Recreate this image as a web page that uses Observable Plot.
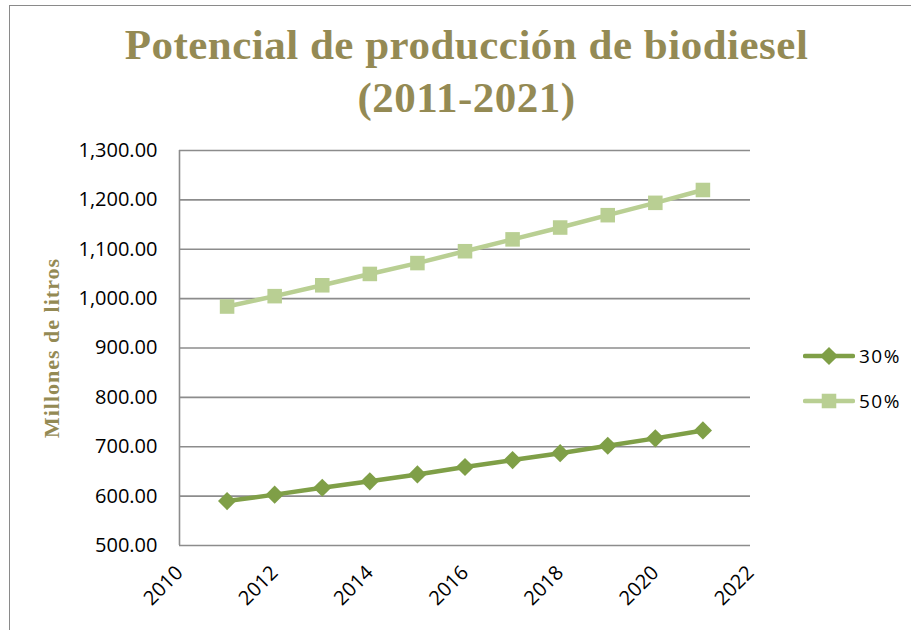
<!DOCTYPE html>
<html>
<head>
<meta charset="utf-8">
<script src="https://cdn.jsdelivr.net/npm/d3@7"></script>
<script src="https://cdn.jsdelivr.net/npm/@observablehq/plot@0.6"></script>
<style>
  html, body { margin: 0; padding: 0; background: #fff; }
  #wrap { position: relative; width: 911px; height: 630px; overflow: hidden; background: #fff; }
  #frame { position: absolute; left: 9px; top: 5px; width: 960px; height: 700px; border: 1.5px solid #8a8a8a; pointer-events: none; }
  #title { height: 135px; box-sizing: border-box; padding-top: 18px; padding-left: 22px; text-align: center;
           font-family: "Liberation Serif", "DejaVu Serif", serif; font-weight: bold; font-size: 43px;
           line-height: 53px; color: #948A54; letter-spacing: 0.5px; }
  #ylabel { position: absolute; left: 52px; top: 348px; transform: translate(-50%, -50%) rotate(-90deg);
            font-family: "Liberation Serif", serif; font-weight: bold; font-size: 22px; color: #948A54; white-space: nowrap; letter-spacing: 1px; }
  #legend { position: absolute; left: 803px; top: 333px; font-family: "Open Sans", sans-serif; font-size: 19px; color: #000; }
  .item { display: flex; align-items: center; height: 45px; }
  .item span { margin-left: 4px; letter-spacing: 1.5px; }
  #chart svg { display: block; }
</style>
</head>
<body>
<div id="wrap">
  <div id="title">Potencial de producción de biodiesel<br>(2011-2021)</div>
  <div id="chart"></div>
  <div id="ylabel">Millones de litros</div>
  <div id="legend"></div>
  <div id="frame"></div>
</div>
<script>
const years = [2011, 2012, 2013, 2014, 2015, 2016, 2017, 2018, 2019, 2020, 2021];
const serie30 = [590, 603, 617, 630, 644, 659, 673, 687, 702, 717, 733];
const serie50 = [984, 1005, 1027, 1050, 1072, 1096, 1120, 1144, 1169, 1194, 1220];
const seriesNames = ["30%", "50%"];
const seriesColors = ["#7F9F47", "#B9CF93"];
const seriesSymbols = ["diamond2", "square"];
const yTicks = [500, 600, 700, 800, 900, 1000, 1100, 1200, 1300];
const xTicks = [2010, 2012, 2014, 2016, 2018, 2020, 2022];

const data = [];
years.forEach((yr, i) => {
  data.push({year: yr, value: serie30[i], serie: seriesNames[0]});
  data.push({year: yr, value: serie50[i], serie: seriesNames[1]});
});

const chart = Plot.plot({
  width: 911,
  height: 495,
  marginLeft: 179,
  marginRight: 161,
  marginTop: 15,
  marginBottom: 85,
  style: {fontFamily: "'Open Sans', sans-serif", fontSize: "20px", color: "#000", background: "#fff"},
  x: {domain: [2010, 2022], ticks: xTicks},
  y: {domain: [500, 1300], ticks: yTicks},
  color: {domain: seriesNames, range: seriesColors},
  symbol: {domain: seriesNames, range: seriesSymbols},
  marks: [
    Plot.ruleY(yTicks, {stroke: "#8c8c8c", strokeWidth: 1.6}),
    Plot.ruleX([2010], {y1: 500, y2: 1300, stroke: "#8c8c8c", strokeWidth: 1.6}),
    Plot.axisY({ticks: yTicks, tickSize: 0, tickPadding: 22, tickFormat: d3.format(",.2f"),
                label: null, fill: "#000", style: {letterSpacing: "2.6px"}}),
    Plot.axisX({ticks: xTicks, tickSize: 0, tickPadding: 24, tickRotate: -45, tickFormat: d3.format("d"),
                label: null, fill: "#000", style: {letterSpacing: "2px", fontSize: "20px"}}),
    Plot.line(data, {x: "year", y: "value", z: "serie", stroke: "serie", strokeWidth: 4.5}),
    Plot.dot(data, {x: "year", y: "value", symbol: "serie", fill: "serie", r: 8.2})
  ]
});
document.getElementById("chart").appendChild(chart);

// legend
const legend = document.getElementById("legend");
seriesNames.forEach((name, i) => {
  const item = document.createElement("div");
  item.className = "item";
  const ns = "http://www.w3.org/2000/svg";
  const svg = document.createElementNS(ns, "svg");
  svg.setAttribute("width", 52); svg.setAttribute("height", 24);
  const line = document.createElementNS(ns, "line");
  line.setAttribute("x1", 2); line.setAttribute("x2", 50); line.setAttribute("y1", 12); line.setAttribute("y2", 12);
  line.setAttribute("stroke", seriesColors[i]); line.setAttribute("stroke-width", 4.5); line.setAttribute("stroke-linecap", "round");
  svg.appendChild(line);
  const sym = document.createElementNS(ns, "path");
  const s = seriesSymbols[i] === "square" ? d3.symbolSquare : d3.symbolDiamond2;
  sym.setAttribute("d", d3.symbol(s, Math.PI * 8.2 * 8.2)());
  sym.setAttribute("transform", "translate(26,12)");
  sym.setAttribute("fill", seriesColors[i]);
  svg.appendChild(sym);
  item.appendChild(svg);
  const t = document.createElement("span");
  t.textContent = name;
  item.appendChild(t);
  legend.appendChild(item);
});
</script>
</body>
</html>
